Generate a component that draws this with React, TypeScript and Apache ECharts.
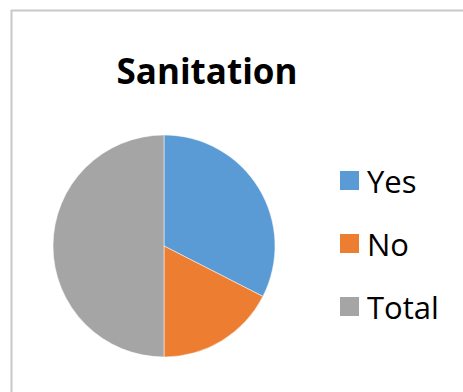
import React, { useEffect, useRef } from "react";
import * as echarts from "echarts";

const categories = ["Yes", "No", "Total"];
const values = [65, 35, 100];
const colors = ["#5B9BD5", "#ED7D31", "#A5A5A5"];
const titleText = "Sanitation";

export default function App() {
  const ref = useRef<HTMLDivElement>(null);
  useEffect(() => {
    if (!ref.current) return;
    const chart = echarts.init(ref.current, undefined, { renderer: "svg" });
    chart.setOption({
      animation: false,
      backgroundColor: "#ffffff",
      color: colors,
      graphic: [
        { type: "line", shape: { x1: 11, y1: 10.5, x2: 463, y2: 10.5 }, style: { stroke: "#c8c8c8", lineWidth: 2 } },
        { type: "line", shape: { x1: 11.5, y1: 10, x2: 11.5, y2: 392 }, style: { stroke: "#c8c8c8", lineWidth: 2 } },
        {
          type: "text",
          x: 207,
          y: 70,
          style: {
            text: titleText,
            font: "bold 35px 'Open Sans'",
            fill: "#000000",
            textAlign: "center",
            textVerticalAlign: "middle",
          },
        },
      ],
      legend: {
        orient: "vertical",
        left: 335,
        top: 160,
        icon: "rect",
        itemWidth: 19,
        itemHeight: 19,
        itemGap: 32,
        data: categories,
        itemStyle: { borderWidth: 0 },
        textStyle: {
          fontFamily: "'Open Sans'",
          fontSize: 31,
          lineHeight: 30,
          color: "#000000",
          padding: [0, 0, 0, 3],
        },
      },
      series: [
        {
          type: "pie",
          center: [164, 246],
          radius: 111,
          startAngle: 90,
          clockwise: true,
          label: { show: false },
          labelLine: { show: false },
          emphasis: { disabled: true },
          itemStyle: { borderColor: "#ffffff", borderWidth: 0.5 },
          data: categories.map((c, i) => ({ name: c, value: values[i] })),
        },
      ],
    });
    return () => chart.dispose();
  }, []);
  return (
    <div
      ref={ref}
      style={{ position: "fixed", left: 0, top: 0, width: 463, height: 392 }}
    />
  );
}
